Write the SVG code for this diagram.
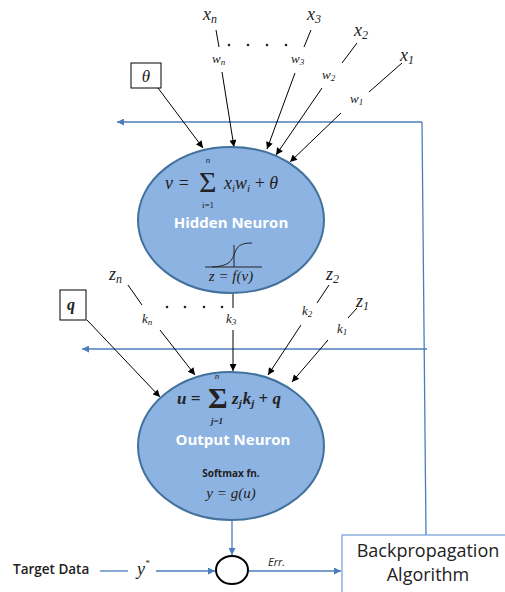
<svg xmlns="http://www.w3.org/2000/svg" width="505" height="592" viewBox="0 0 505 592">
  <defs>
    <marker id="ah" viewBox="0 0 10 10" refX="10" refY="5" markerWidth="8" markerHeight="7" markerUnits="userSpaceOnUse" orient="auto">
      <path d="M0,0 L10,5 L0,10 Z" fill="#000"/>
    </marker>
    <marker id="ahb" viewBox="0 0 10 10" refX="10" refY="5" markerWidth="8" markerHeight="7" markerUnits="userSpaceOnUse" orient="auto">
      <path d="M0,0 L10,5 L0,10 Z" fill="#4a7ebb"/>
    </marker>
    <style>
      .wire{stroke:#000;stroke-width:1;fill:none}
      .arr{marker-end:url(#ah)}
      .fb{stroke:#4a7ebb;stroke-width:1.3;fill:none}
      .fba{marker-end:url(#ahb)}
      .neuron{fill:#8db3e2;stroke:#41719c;stroke-width:2}
      .m{font-family:'Liberation Serif','DejaVu Serif',serif;font-style:italic;fill:#222}
      .up{font-style:normal}
      .lbl{font-size:18px}
      .wt{font-size:13px}
      .sub{font-size:12px}
      .wsub{font-size:9px}
      .dot{fill:#222}
      .sigma{font-family:'Liberation Serif',serif;font-size:30px;fill:#222}
      .lim{font-family:'Liberation Serif',serif;font-size:9px;fill:#222;text-anchor:middle}
      .title{font-family:'Open Sans','Liberation Sans',sans-serif;font-weight:bold;fill:#fff;font-size:15px;text-anchor:middle}
      .sans{font-family:'Open Sans','Liberation Sans',sans-serif;fill:#222}
      .box{fill:#fff;stroke:#000;stroke-width:1}
    </style>
  </defs>

  <!-- feedback paths from the backpropagation block -->
  <g id="feedback">
    <path class="fb" d="M426,535 L422,122"/>
    <path class="fb fba" d="M422,122 L117,122"/>
    <path class="fb fba" d="M427,349 L82,349"/>
  </g>

  <!-- input wires and weighted arrows -->
  <g id="connectors">
    <!-- hidden layer inputs -->
    <path class="wire" d="M216,30 L219,47"/>
    <path class="wire arr" d="M222,72 L234,147"/>
    <path class="wire" d="M311,30 L304,47"/>
    <path class="wire arr" d="M295,73 L267,149"/>
    <path class="wire" d="M357,43 L342,63"/>
    <path class="wire arr" d="M322,88 L276,155"/>
    <path class="wire" d="M402,63 L369,92"/>
    <path class="wire arr" d="M341,113 L290,162"/>
    <path class="wire arr" d="M158,88 L203,148"/>
    <!-- output layer inputs -->
    <path class="wire" d="M128,285 L142,305"/>
    <path class="wire arr" d="M160,330 L195,375"/>
    <path class="wire" d="M233,294 L233,308"/>
    <path class="wire arr" d="M233,330 L233,371"/>
    <path class="wire" d="M329,285 L317,303"/>
    <path class="wire arr" d="M301,325 L268,375"/>
    <path class="wire" d="M357,308 L348,318"/>
    <path class="wire arr" d="M328,340 L292,382"/>
    <path class="wire arr" d="M87,320 L160,397"/>
    <!-- error path -->
    <path class="fb fba" d="M232,521 L232,555"/>
    <path class="fb" d="M100,571 L128,571"/>
    <path class="fb fba" d="M156,571 L215,571"/>
    <path class="fb fba" d="M249,571 L341,571"/>
  </g>

  <!-- input labels -->
  <g id="inputs">
    <text class="m lbl" x="203" y="20">x<tspan class="sub" dy="3">n</tspan></text>
    <text class="m lbl" x="307" y="20">x<tspan class="sub" dy="3">3</tspan></text>
    <text class="m lbl" x="354" y="36">x<tspan class="sub" dy="3">2</tspan></text>
    <text class="m lbl" x="400" y="61">x<tspan class="sub" dy="3">1</tspan></text>
    <text class="m wt" x="212" y="63">w<tspan class="wsub" dy="2">n</tspan></text>
    <text class="m wt" x="291" y="63">w<tspan class="wsub" dy="2">3</tspan></text>
    <text class="m wt" x="322" y="79">w<tspan class="wsub" dy="2">2</tspan></text>
    <text class="m wt" x="350" y="103">w<tspan class="wsub" dy="2">1</tspan></text>
    <circle class="dot" cx="229" cy="45" r="1.3"/>
    <circle class="dot" cx="248" cy="45" r="1.3"/>
    <circle class="dot" cx="267" cy="45" r="1.3"/>
    <circle class="dot" cx="286" cy="45" r="1.3"/>

    <text class="m lbl" x="109" y="280">z<tspan class="sub" dy="3">n</tspan></text>
    <text class="m lbl" x="326" y="280">z<tspan class="sub" dy="3">2</tspan></text>
    <text class="m lbl" x="356" y="307">z<tspan class="sub" dy="3">1</tspan></text>
    <text class="m wt" x="142" y="323">k<tspan class="wsub" dy="2">n</tspan></text>
    <text class="m wt" x="226" y="323">k<tspan class="wsub" dy="2">3</tspan></text>
    <text class="m wt" x="302" y="315">k<tspan class="wsub" dy="2">2</tspan></text>
    <text class="m wt" x="337" y="333">k<tspan class="wsub" dy="2">1</tspan></text>
    <circle class="dot" cx="167" cy="307" r="1.3"/>
    <circle class="dot" cx="185" cy="307" r="1.3"/>
    <circle class="dot" cx="204" cy="307" r="1.3"/>
    <circle class="dot" cx="222" cy="307" r="1.3"/>
  </g>

  <!-- bias boxes -->
  <g id="theta">
    <rect class="box" x="131" y="63" width="30" height="25"/>
    <text class="m" x="146" y="82" font-size="17" text-anchor="middle">θ</text>
  </g>
  <g id="q">
    <rect class="box" x="60" y="290" width="26" height="30"/>
    <text class="m" x="71" y="310" font-size="16" font-weight="bold" text-anchor="middle">q</text>
  </g>

  <!-- hidden neuron -->
  <g id="hidden-neuron">
    <ellipse class="neuron" cx="231" cy="220" rx="93" ry="73"/>
    <text class="m" x="165" y="189" font-size="18">v =</text>
    <text class="sigma" x="199" y="192">Σ</text>
    <text class="lim" font-style="italic" x="208" y="163">n</text>
    <text class="lim" x="208" y="208">i=1</text>
    <text class="m" x="224" y="189" font-size="18">x<tspan font-size="11" dy="3">i</tspan><tspan dy="-3">w</tspan><tspan font-size="11" dy="3">i</tspan><tspan class="up" dy="-3"> + </tspan>θ</text>
    <text class="title" x="231" y="228">Hidden Neuron</text>
    <path d="M205,267 L262,267" stroke="#222" stroke-width="1"/>
    <path d="M234,245 L234,267" stroke="#222" stroke-width="1"/>
    <path d="M212,267 C228,266 231,262 234,255 C237,246 240,243 252,243" stroke="#222" stroke-width="1" fill="none"/>
    <text class="m" x="231" y="281" font-size="15" text-anchor="middle">z = f(v)</text>
  </g>

  <!-- output neuron -->
  <g id="output-neuron">
    <ellipse class="neuron" cx="231" cy="446" rx="93" ry="74"/>
    <text class="m" x="177" y="404" font-size="17" font-weight="bold">u =</text>
    <text class="sigma" x="208" y="408" font-weight="bold">Σ</text>
    <text class="lim" font-style="italic" x="217" y="379">n</text>
    <text class="lim" font-style="italic" font-weight="bold" x="217" y="424">j=1</text>
    <text class="m" x="232" y="404" font-size="17" font-weight="bold">z<tspan font-size="11" dy="3">j</tspan><tspan dx="1" dy="-3">k</tspan><tspan font-size="11" dy="3">j</tspan><tspan class="up" dy="-3"> + </tspan>q</text>
    <text class="title" x="233" y="445">Output Neuron</text>
    <text class="sans" x="231" y="477" font-size="10" font-weight="bold" text-anchor="middle">Softmax fn.</text>
    <text class="m" x="231" y="498" font-size="15" text-anchor="middle">y = g(u)</text>
  </g>

  <!-- error comparison -->
  <g id="target">
    <text class="sans" x="13" y="574" font-size="13.5" font-weight="600" fill="#333">Target Data</text>
    <text class="m" x="137" y="575" font-size="18">y<tspan font-size="9" dy="-9">*</tspan></text>
  </g>
  <g id="sum-junction">
    <ellipse cx="232" cy="570" rx="16" ry="14" fill="#fff" stroke="#000" stroke-width="2"/>
  </g>
  <g id="err-label">
    <text class="sans" x="268" y="566" font-size="11" font-style="italic">Err.</text>
  </g>

  <!-- backpropagation block -->
  <g id="backprop">
    <rect x="342" y="535" width="170" height="62" fill="#fff" stroke="#7aa3d8" stroke-width="1.3"/>
    <text class="sans" x="428" y="557" font-size="18" text-anchor="middle">Backpropagation</text>
    <text class="sans" x="428" y="581" font-size="18" text-anchor="middle">Algorithm</text>
  </g>
</svg>
